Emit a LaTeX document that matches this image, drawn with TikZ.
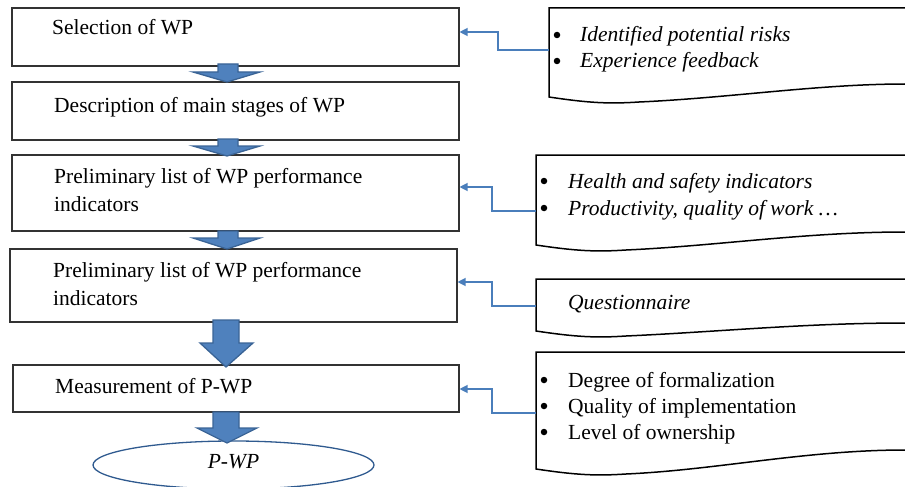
\documentclass[tikz,border=0pt]{standalone}
\usepackage{fontspec}
\setmainfont{Liberation Serif}
\usetikzlibrary{arrows.meta,shapes.geometric}
\definecolor{blk}{HTML}{4F81BD}
\definecolor{blkedge}{HTML}{3A6496}
\definecolor{connc}{HTML}{4A7EBB}
\definecolor{ellc}{HTML}{2F5A8F}
\tikzset{
 box/.style={draw=black!80, line width=1.1pt, minimum width=447pt, inner sep=0pt},
 lbl/.style={anchor=base west, inner sep=0pt, font=\fontsize{21.5}{26}\selectfont},
 ilbl/.style={anchor=base west, inner sep=0pt, font=\fontsize{21.5}{26}\selectfont\itshape},
 bul/.style={circle, fill=black, inner sep=0pt, minimum size=6.5pt},
 blockarrow/.style={fill=blk, draw=blkedge, line width=1.3pt, line join=miter},
 link/.style={draw=connc, line width=1.2pt, -{Triangle[length=8pt,width=8pt]}},
 docline/.style={draw=black, line width=1.5pt, fill=white},
}
\newcommand{\mydocshape}[4]{% x0, top, yL, yR
  \draw[docline] (#1,#2) -- (915,#2) -- (915,#4) -- (905,#4)
    .. controls ({#1+270},#4) and ({#1+180},{#3+1}) .. ({#1+90},{#3+5})
    .. controls ({#1+60},{#3+7}) and ({#1+40},{#3+6}) .. (#1,#3) -- cycle;}
\begin{document}
\begin{tikzpicture}[x=1pt,y=-1pt]
\useasboundingbox (0,0) rectangle (905,487);
\clip (0,0) rectangle (905,487);
% left boxes
\node[box, minimum height=58pt] (b1) at (235.5,37) {};
\node[box, minimum height=58pt] (b2) at (235.5,111) {};
\node[box, minimum height=76pt] (b3) at (235.5,193) {};
\node[box, minimum height=73pt] (b4) at (233.5,285.5) {};
\node[box, minimum height=47pt, minimum width=446pt] (b5) at (236,388.5) {};
\node[ellipse, draw=ellc, line width=1.3pt, minimum width=281pt, minimum height=48pt, inner sep=0pt] (pwp) at (233.5,465) {};
% box texts
\node[lbl] (t1) at (52,35) {Selection of WP};
\node[lbl] (t2) at (54,112) {Description of main stages of WP};
\node[lbl] (t3a) at (54,183) {Preliminary list of WP performance};
\node[lbl] (t3b) at (54,211) {indicators};
\node[lbl] (t4a) at (53,277) {Preliminary list of WP performance};
\node[lbl] (t4b) at (53,305) {indicators};
\node[lbl] (t5) at (55,393) {Measurement of P-WP};
\node[ilbl, anchor=base] (t6) at (233.5,468) {P-WP};
% block arrows
\draw[blockarrow] (218,64)--(238,64)--(238,72)--(260,72)--(227,82)--(193,72)--(218,72)--cycle;
\draw[blockarrow] (218,139)--(238,139)--(238,146)--(260,146)--(227,156)--(193,146)--(218,146)--cycle;
\draw[blockarrow] (218,231)--(238,231)--(238,238)--(260,238)--(227,249)--(193,238)--(218,238)--cycle;
\draw[blockarrow] (213,320)--(239,320)--(239,343)--(253,343)--(226,367)--(200,343)--(213,343)--cycle;
\draw[blockarrow] (213,412)--(239,412)--(239,428)--(257,428)--(227,443)--(197,428)--(213,428)--cycle;
% documents
\mydocshape{549}{8}{97}{84}
\mydocshape{536}{155}{245}{232}
\mydocshape{536}{279}{331}{323}
\mydocshape{536}{352}{469}{450}
\coordinate (d1) at (549,50);
\coordinate (d2) at (536,211);
\coordinate (d3) at (536,306);
\coordinate (d4) at (536,413);
% document texts
\node[bul] (bu1a) at (557,35) {};
\node[ilbl] (s1a) at (580,42) {Identified potential risks};
\node[bul] (bu1b) at (557,61) {};
\node[ilbl] (s1b) at (580,68) {Experience feedback};
\node[bul] (bu2a) at (544,181) {};
\node[ilbl] (s2a) at (568,188) {Health and safety indicators};
\node[bul] (bu2b) at (544,208) {};
\node[ilbl] (s2b) at (568,215) {Productivity, quality of work …};
\node[ilbl] (s3) at (568,309) {Questionnaire};
\node[bul] (bu4a) at (544,380) {};
\node[lbl] (s4a) at (568,387) {Degree of formalization};
\node[bul] (bu4b) at (544,406) {};
\node[lbl] (s4b) at (568,413) {Quality of implementation};
\node[bul] (bu4c) at (544,432) {};
\node[lbl] (s4c) at (568,439) {Level of ownership};
% connectors
\coordinate (y1) at (0,32);
\coordinate (y2) at (0,187);
\coordinate (y3) at (0,282);
\coordinate (y4) at (0,389);
\draw[link] (d1) -- (498,50) |- (b1.east |- y1);
\draw[link] (d2) -- (492,211) |- (b3.east |- y2);
\draw[link] (d3) -- (492,306) |- (b4.east |- y3);
\draw[link] (d4) -- (492,413) |- (b5.east |- y4);
\end{tikzpicture}
\end{document}
